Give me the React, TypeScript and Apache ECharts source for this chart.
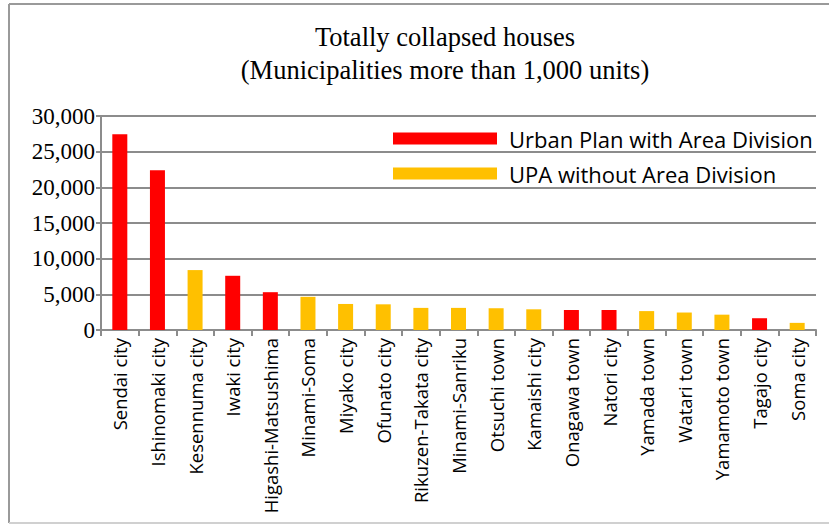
import React, { useEffect, useRef } from "react";
import * as echarts from "echarts";

const categories = [
  "Sendai city", "Ishinomaki city", "Kesennuma city", "Iwaki city", "Higashi-Matsushima",
  "Minami-Soma", "Miyako city", "Ofunato city", "Rikuzen-Takata city", "Minami-Sanriku",
  "Otsuchi town", "Kamaishi city", "Onagawa town", "Natori city", "Yamada town",
  "Watari town", "Yamamoto town", "Tagajo city", "Soma city",
];
const totals = [
  27450, 22400, 8400, 7600, 5300, 4650, 3650, 3600, 3100, 3100,
  3050, 2900, 2800, 2800, 2650, 2450, 2150, 1650, 1000,
];
// true = Urban Plan with Area Division, false = UPA without Area Division
const withDivision = [
  true, true, false, true, true, false, false, false, false, false,
  false, false, true, true, false, false, false, true, false,
];
const seriesNames = ["Urban Plan with Area Division", "UPA without Area Division"];
const titleLines = ["Totally collapsed houses", "(Municipalities more than 1,000 units)"];

const urbanValues = totals.map((v, i) => (withDivision[i] ? v : "-"));
const upaValues = totals.map((v, i) => (withDivision[i] ? "-" : v));

export default function App() {
  const ref = useRef<HTMLDivElement>(null);
  useEffect(() => {
    if (!ref.current) return;
    const chart = echarts.init(ref.current, null, { renderer: "svg" });
    const sans = "'Open Sans', sans-serif";
    const serif = "'Liberation Serif', 'Times New Roman', serif";
    chart.setOption({
      animation: false,
      backgroundColor: "#ffffff",
      grid: { left: 101, right: 13, top: 116, bottom: 195, containLabel: false },
      graphic: [
        { type: "line", shape: { x1: 9, y1: 4, x2: 829, y2: 4 }, style: { stroke: "#9a9a9a", lineWidth: 2 } },
        { type: "line", shape: { x1: 9, y1: 4, x2: 9, y2: 523 }, style: { stroke: "#9a9a9a", lineWidth: 2 } },
        { type: "line", shape: { x1: 9, y1: 523, x2: 829, y2: 523 }, style: { stroke: "#d0d0d0", lineWidth: 2 } },
        {
          type: "text", x: 445, y: 37,
          style: { text: titleLines[0], font: `26.5px ${serif}`, fill: "#000", textAlign: "center", textVerticalAlign: "middle" },
        },
        {
          type: "text", x: 445, y: 70,
          style: { text: titleLines[1], font: `26.5px ${serif}`, fill: "#000", textAlign: "center", textVerticalAlign: "middle" },
        },
      ],
      legend: {
        orient: "vertical",
        left: 388,
        top: 120,
        itemWidth: 104,
        itemHeight: 12,
        itemGap: 8,
        icon: "rect",
        data: seriesNames,
        textStyle: { fontFamily: sans, fontSize: 22, color: "#000", padding: [0, 0, 0, 7], lineHeight: 27 },
      },
      xAxis: {
        type: "category",
        data: categories,
        axisLine: { lineStyle: { color: "#8c8c8c", width: 2 } },
        axisTick: { show: true, length: 6, lineStyle: { color: "#8c8c8c", width: 2 } },
        axisLabel: { rotate: 90, interval: 0, margin: 8, fontFamily: sans, fontSize: 18.5, color: "#000" },
      },
      yAxis: {
        type: "value",
        min: 0,
        max: 30000,
        interval: 5000,
        axisLine: { show: true, lineStyle: { color: "#8c8c8c", width: 2 } },
        axisTick: { show: true, length: 5, lineStyle: { color: "#8c8c8c", width: 2 } },
        axisLabel: {
          margin: 6,
          fontFamily: serif,
          fontSize: 23,
          color: "#000",
          formatter: (v: number) => v.toLocaleString("en-US"),
        },
        splitLine: { lineStyle: { color: "#8c8c8c", width: 2 } },
      },
      series: [
        {
          name: seriesNames[0], type: "bar", data: urbanValues, barWidth: 15, barGap: "-100%",
          itemStyle: { color: "#ff0000" },
        },
        {
          name: seriesNames[1], type: "bar", data: upaValues, barWidth: 15, barGap: "-100%",
          itemStyle: { color: "#ffc000" },
        },
      ],
    });
    return () => chart.dispose();
  }, []);
  return <div ref={ref} style={{ width: 829, height: 525, position: "absolute", left: 0, top: 0 }} />;
}
